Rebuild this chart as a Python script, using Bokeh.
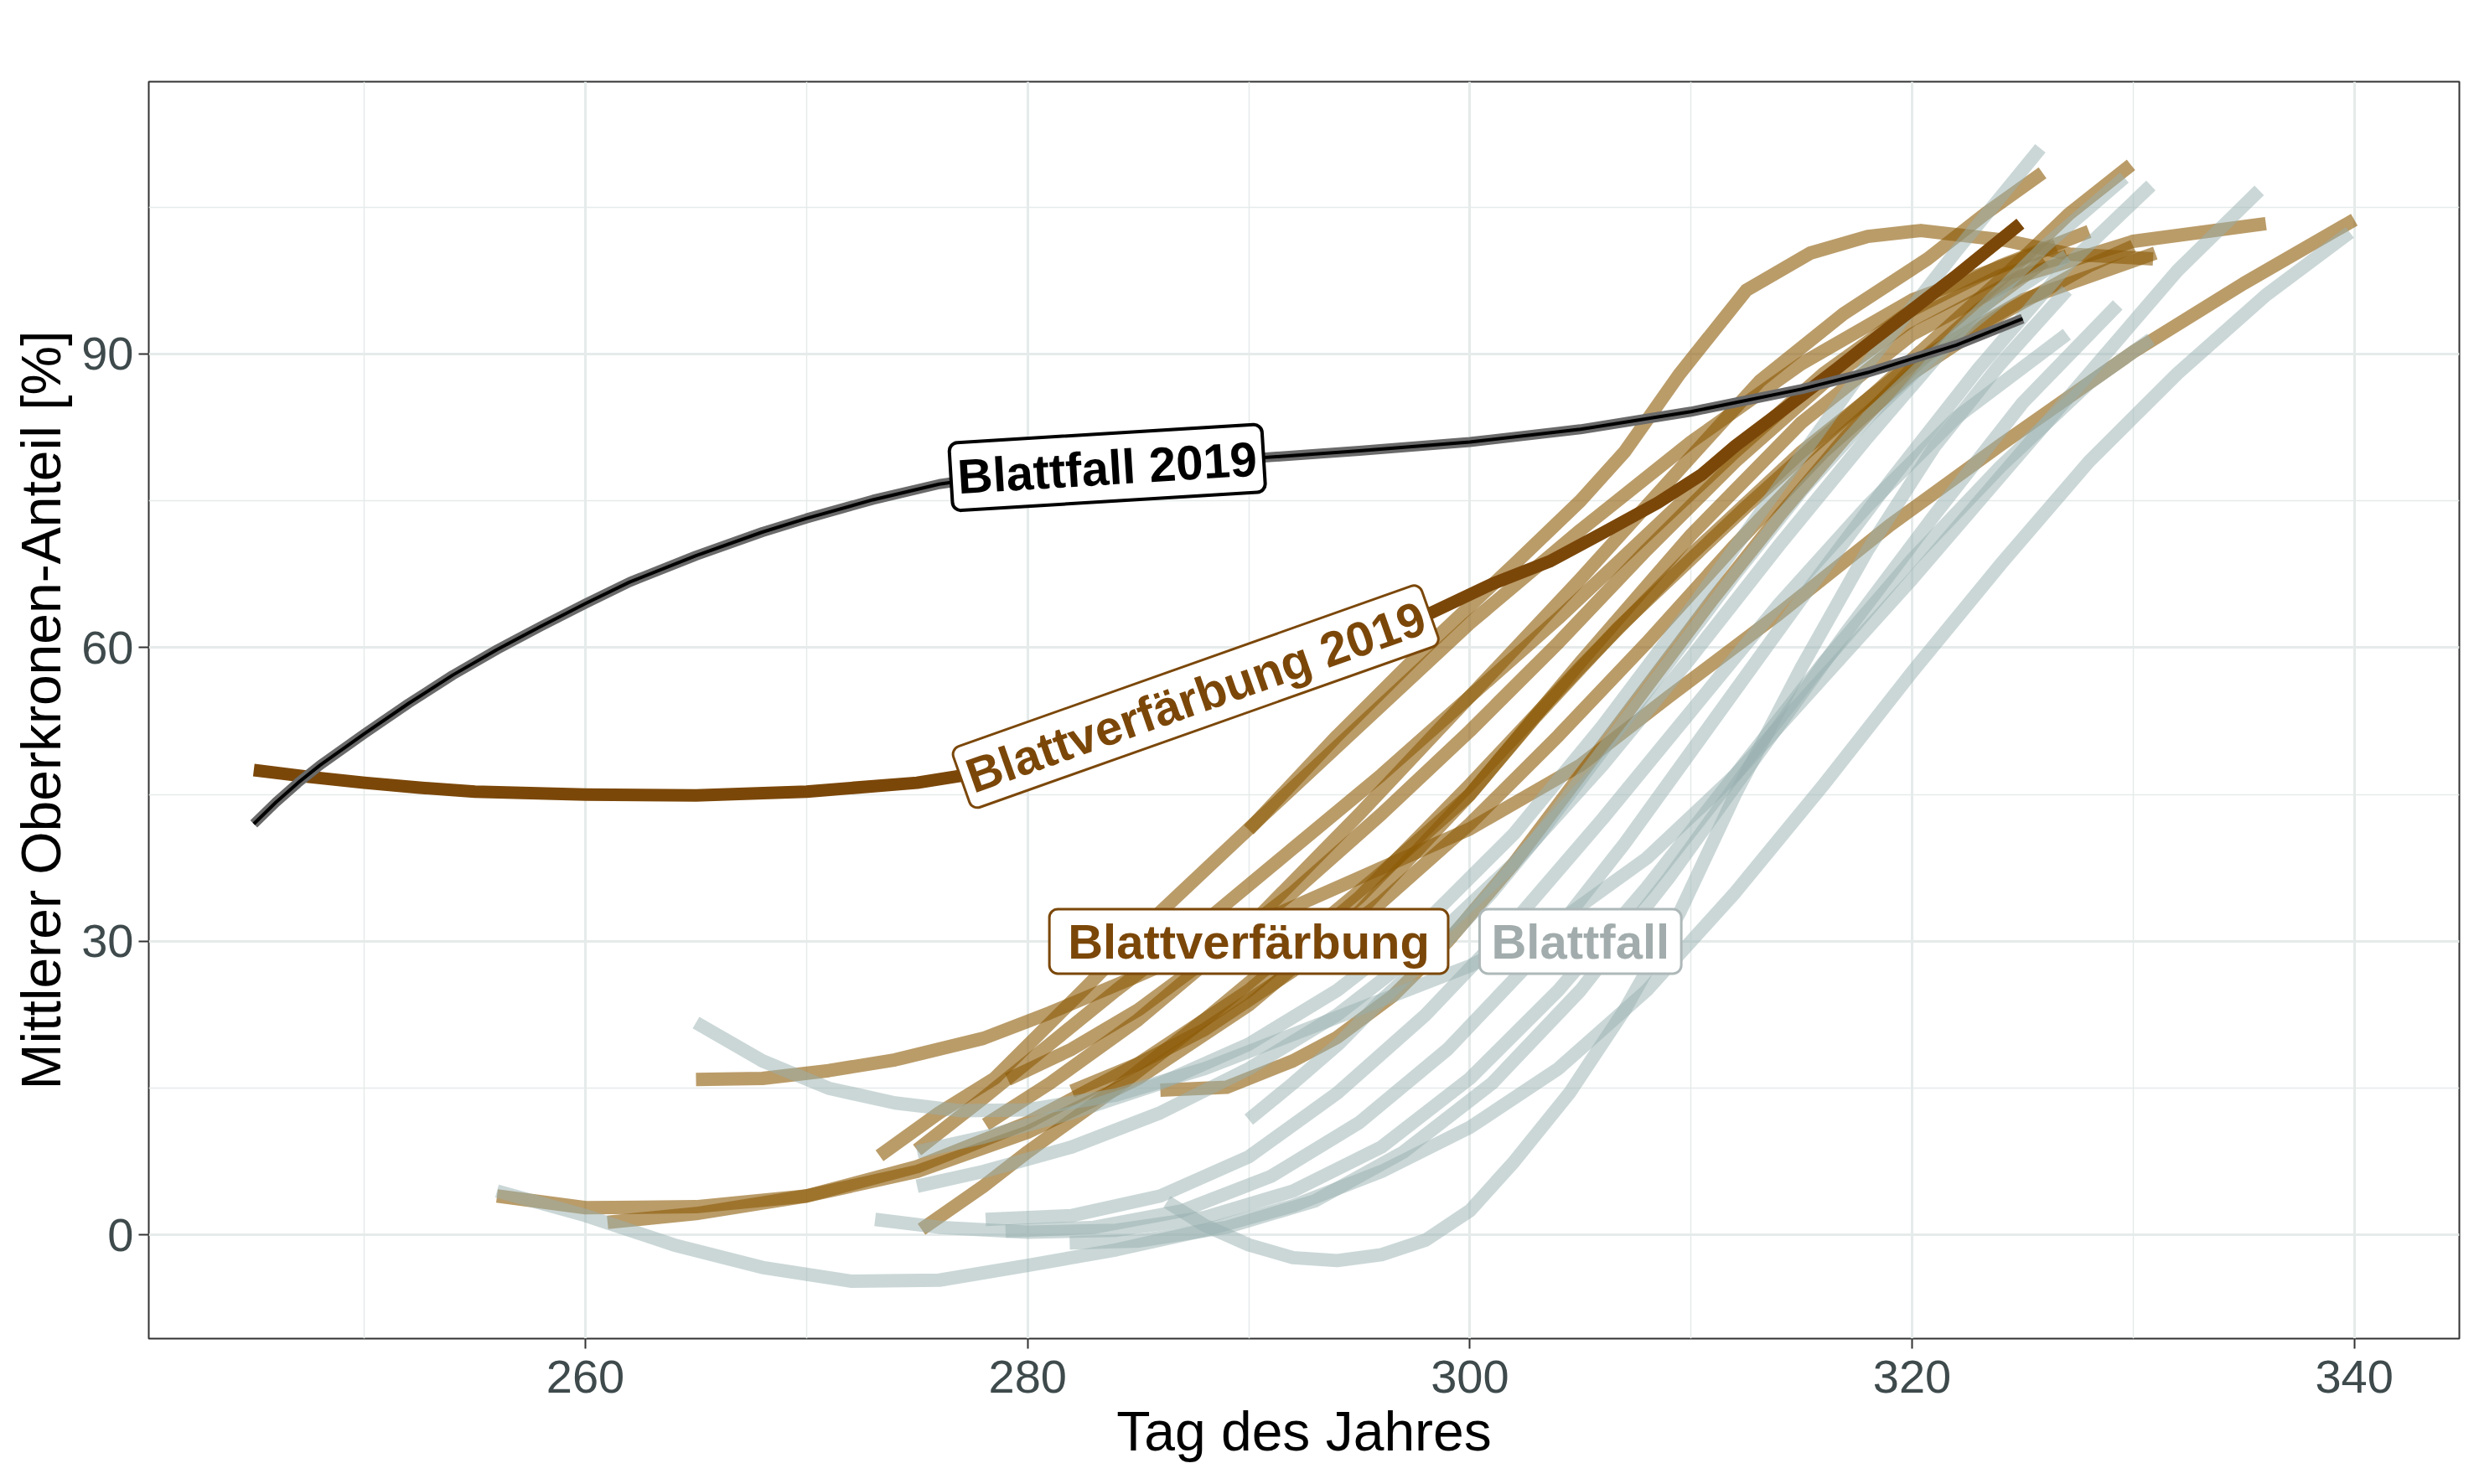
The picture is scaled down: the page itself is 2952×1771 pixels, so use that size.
from bokeh.plotting import figure
from bokeh.models import FixedTicker, Label
from bokeh.embed import file_html
from bokeh.resources import INLINE

# ---------------- data ----------------
x_ticks = [260, 280, 300, 320, 340]
x_minor = [250, 270, 290, 310, 330]
y_ticks = [0, 30, 60, 90]
y_minor = [15, 45, 75, 105]

# Blattfall 2019
fall2019_day = [245, 246, 247, 248, 249, 250, 252, 254, 256, 258, 260, 262, 265, 268, 270, 273, 276,
                280, 285, 290, 295, 300, 305, 310, 315, 318, 320, 322, 325]
fall2019_val = [42.0, 44.2, 46.2, 48.0, 49.6, 51.2, 54.3, 57.2, 59.8, 62.2, 64.5, 66.7, 69.4, 71.8, 73.2, 75.1, 76.7,
                78.0, 78.9, 79.3, 80.1, 81.0, 82.3, 84.1, 86.4, 88.1, 89.5, 90.9, 93.6]

# Blattverfaerbung 2019
color2019_day = [245, 247.5, 250, 252.5, 255, 260, 265, 270, 275, 280, 285, 290, 293, 296.8, 301, 303.6,
                 306, 308.5, 310.5, 312, 314, 316.6, 318, 320, 322, 324.9]
color2019_val = [47.5, 46.8, 46.2, 45.7, 45.3, 45.0, 44.9, 45.3, 46.2, 48.0, 51.0, 55.0, 58.0, 62.0, 66.5, 68.8,
                 71.7, 74.8, 77.7, 80.6, 84.0, 88.5, 91.0, 94.5, 98.0, 103.3]

# Blattverfaerbung, other years
tan_a_day = [256, 260, 265, 270, 275, 280, 285, 290, 295, 300, 305, 310, 315, 320, 325, 330, 336]
tan_a_val = [4.0, 2.8, 2.9, 4.0, 6.5, 10.5, 16.0, 23.5, 33.0, 45.0, 58.5, 71.5, 83.0, 92.0, 98.0, 101.5, 103.3]
tan_b_day = [261, 265, 270, 275, 280, 285, 290, 295, 300, 305, 310, 315, 320, 325, 331]
tan_b_val = [1.3, 2.2, 4.0, 7.0, 11.5, 17.5, 25.0, 34.5, 46.0, 58.0, 69.5, 80.0, 89.0, 95.5, 100.3]
tan_c_day = [265, 268, 271, 274, 278, 281, 285, 290, 295, 300, 305, 309, 314, 319, 324, 330, 335, 340]
tan_c_val = [15.9, 16.0, 16.8, 17.9, 20.1, 22.7, 26.5, 31.5, 36.5, 41.5, 48.0, 55.0, 63.5, 72.5, 80.7, 90.2, 97.2, 103.7]
tan_d_day = [273.3, 276, 278.5, 282.5, 286, 290, 295, 300, 305, 310, 315, 320, 326.5]
tan_d_val = [8.1, 12.5, 16.0, 25.0, 33.0, 41.5, 52.0, 62.5, 72.0, 81.0, 89.0, 95.5, 101.0]
tan_e_day = [275, 278, 281, 284, 288, 292, 296, 300, 304, 308, 312, 316, 320, 324, 328]
tan_e_val = [8.7, 14.0, 19.5, 25.0, 32.0, 39.5, 47.0, 55.0, 63.0, 71.5, 80.0, 88.0, 94.5, 99.0, 102.5]
tan_f_day = [275.2, 278, 280, 284, 288, 292, 296, 300, 303, 306.7, 309.6, 312.5, 315.4, 318.4, 321.3, 324.2, 327.1, 329.9]
tan_f_val = [0.6, 5.0, 8.5, 15.0, 22.0, 29.5, 37.0, 45.0, 53.0, 62.0, 68.2, 74.4, 80.3, 86.2, 92.1, 98.0, 104.3, 109.3]
tan_g_day = [279.1, 282, 285, 288, 292, 296, 300, 304, 308, 312, 316, 320, 324, 327]
tan_g_val = [15.9, 19.0, 23.0, 28.0, 35.0, 43.0, 51.5, 60.5, 70.0, 79.0, 87.0, 93.5, 98.0, 100.0]
tan_h_day = [278.1, 281, 285, 290, 295, 300, 305, 310, 313.1, 316.9, 320.7, 323.3, 325.9]
tan_h_val = [11.3, 15.5, 22.0, 31.5, 43.0, 55.0, 67.0, 79.5, 87.2, 94.1, 99.7, 104.3, 108.5]
tan_i_day = [282, 285, 288, 292, 296, 300, 304, 308, 312, 316, 320, 324, 328, 330]
tan_i_val = [14.7, 17.5, 21.0, 27.0, 34.0, 42.0, 51.0, 60.5, 70.5, 80.0, 88.0, 94.0, 99.0, 101.0]
tan_j_day = [286, 289, 292, 294, 296.5, 299, 302, 305, 308, 311, 314, 317, 320, 323, 326]
tan_j_val = [14.8, 15.1, 17.8, 20.2, 24.4, 30.0, 38.0, 47.0, 56.0, 65.0, 73.5, 81.5, 88.5, 94.5, 99.5]
tan_k_day = [290, 294, 298, 302, 305, 307, 309.5, 312.5, 315.4, 318, 320.4, 324.2, 327.1, 330.9]
tan_k_val = [41.4, 51.0, 60.0, 68.5, 75.0, 80.0, 88.0, 96.5, 100.3, 102.0, 102.6, 101.6, 100.2, 99.7]

# Blattfall, other years
gray_1_day = [256, 260, 264, 268, 272, 276, 280, 284, 288, 292, 296, 300, 304, 308, 312, 316, 320, 324, 328, 332, 336, 339.8]
gray_1_val = [4.5, 2.0, -1.0, -3.3, -4.7, -4.6, -3.1, -1.5, 0.5, 3.0, 6.5, 11.0, 17.0, 25.0, 35.0, 46.0, 57.5, 68.5, 79.0, 88.0, 96.0, 102.4]
gray_2_day = [265, 268, 271, 274, 277, 280, 284, 288, 292, 296, 300, 304, 308, 312, 316, 320, 324, 328, 332, 335.7]
gray_2_val = [21.7, 17.8, 15.0, 13.5, 12.7, 12.8, 14.3, 17.0, 20.5, 24.0, 27.5, 32.0, 38.5, 47.0, 57.0, 67.0, 77.5, 88.0, 98.5, 106.7]
gray_3_day = [273.1, 276, 280, 284, 288, 292, 296, 300, 304, 308, 312, 316, 320, 324, 328, 330.8]
gray_3_val = [1.6, 0.8, 0.3, 0.5, 1.8, 4.5, 9.0, 16.0, 25.0, 35.5, 47.0, 58.5, 69.0, 78.5, 87.0, 91.5]
gray_4_day = [275, 278, 282, 286, 290, 294, 298, 302, 306, 310, 314, 318, 322, 326, 329.6]
gray_4_val = [5.0, 6.5, 9.0, 12.5, 17.0, 22.5, 29.5, 38.0, 48.0, 59.0, 70.5, 81.5, 92.0, 101.0, 108.0]
gray_5_day = [275, 278, 282, 286, 290, 294, 298, 302, 306, 310, 314, 318, 322, 325.8]
gray_5_val = [8.5, 10.0, 12.5, 15.5, 19.5, 25.0, 32.0, 41.0, 52.0, 64.0, 76.5, 89.0, 100.5, 111.0]
gray_6_day = [278.1, 282, 286, 290, 294, 298, 302, 306, 310, 314, 318, 322, 327]
gray_6_val = [1.6, 2.0, 4.0, 8.0, 14.5, 22.5, 32.0, 42.5, 53.5, 64.5, 74.5, 83.5, 92.0]
gray_7_day = [279, 283, 287, 291, 295, 299, 303, 307, 311, 315, 319, 323, 327, 330.8]
gray_7_val = [0.4, 0.8, 2.5, 6.0, 11.5, 19.0, 28.5, 40.0, 52.5, 65.0, 77.0, 88.5, 99.0, 107.2]
gray_8_day = [281.9, 285, 289, 293, 297, 301, 305, 309, 313, 317, 321, 325, 329.3]
gray_8_val = [-0.8, -0.6, 0.8, 3.5, 8.5, 15.5, 25.0, 36.5, 49.0, 61.5, 73.5, 85.0, 95.0]
gray_9_day = [286.3, 288, 290, 292, 294, 296, 298, 300, 302, 304.5, 307, 309.5, 312, 315, 318, 321, 324, 327]
gray_9_val = [3.4, 1.0, -1.0, -2.3, -2.6, -2.0, -0.5, 2.5, 7.5, 14.5, 23.0, 33.0, 45.0, 58.0, 70.0, 80.5, 89.0, 96.5]
gray_10_day = [290, 292, 294.1, 296, 298.9, 301, 303, 305, 307, 309, 312, 315, 318, 321, 324, 327]
gray_10_val = [11.8, 15.5, 19.6, 24.0, 29.9, 35.0, 40.5, 46.5, 52.5, 58.5, 67.5, 76.0, 83.5, 90.0, 95.5, 100.0]

x_title = "Tag des Jahres"
y_title = "Mittlerer Oberkronen-Anteil [%]"

tan_days = [tan_a_day, tan_b_day, tan_c_day, tan_d_day, tan_e_day, tan_f_day,
            tan_g_day, tan_h_day, tan_i_day, tan_j_day, tan_k_day]
tan_vals = [tan_a_val, tan_b_val, tan_c_val, tan_d_val, tan_e_val, tan_f_val,
            tan_g_val, tan_h_val, tan_i_val, tan_j_val, tan_k_val]
gray_days = [gray_1_day, gray_2_day, gray_3_day, gray_4_day, gray_5_day,
             gray_6_day, gray_7_day, gray_8_day, gray_9_day, gray_10_day]
gray_vals = [gray_1_val, gray_2_val, gray_3_val, gray_4_val, gray_5_val,
             gray_6_val, gray_7_val, gray_8_val, gray_9_val, gray_10_val]

# ---------------- figure ----------------
FONT = "Liberation Sans"
BROWN = "#7B4709"
TAN = "#8C5A05"
GRAY = "#98B0AF"

p = figure(width=2936, height=1755, x_range=(240.25, 344.75), y_range=(-10.57, 117.8),
           output_backend="svg", toolbar_location=None,
           min_border_left=177, min_border_right=2, min_border_top=97, min_border_bottom=158)
p.background_fill_color = "white"
p.border_fill_color = "white"
p.outline_line_color = "#333333"
p.outline_line_width = 2

xt = FixedTicker(ticks=x_ticks, minor_ticks=x_minor)
yt = FixedTicker(ticks=y_ticks, minor_ticks=y_minor)
p.xaxis.ticker = xt
p.yaxis.ticker = yt
p.xgrid.ticker = xt
p.ygrid.ticker = yt

for g in (p.xgrid, p.ygrid):
    g.grid_line_color = "#E5EBEA"
    g.grid_line_width = 3
    g.minor_grid_line_color = "#E5EBEA"
    g.minor_grid_line_width = 1.5

for ax in (p.xaxis, p.yaxis):
    ax.axis_line_color = None
    ax.major_tick_line_color = "#333333"
    ax.major_tick_line_width = 2
    ax.major_tick_out = 12
    ax.major_tick_in = 0
    ax.minor_tick_line_color = None
    ax.major_label_text_font = FONT
    ax.major_label_text_font_size = "56px"
    ax.major_label_text_color = "#3E4A4C"
    ax.axis_label_text_font = FONT
    ax.axis_label_text_font_size = "66px"
    ax.axis_label_text_font_style = "normal"
    ax.axis_label_text_color = "black"

p.xaxis.axis_label = x_title
p.yaxis.axis_label = y_title
p.xaxis.major_label_standoff = 14
p.xaxis.axis_label_standoff = 6
p.yaxis.major_label_standoff = 6
p.yaxis.axis_label_standoff = 8

# other years
p.multi_line(xs=tan_days, ys=tan_vals, line_color=TAN, line_alpha=0.6,
             line_width=16, line_join="round")
p.multi_line(xs=gray_days, ys=gray_vals, line_color=GRAY, line_alpha=0.5,
             line_width=16, line_join="round")

# 2019
p.line(color2019_day, color2019_val, line_color=BROWN, line_width=15, line_join="round")
p.line(fall2019_day, fall2019_val, line_color="#6A6A6A", line_width=12, line_join="round")
p.line(fall2019_day, fall2019_val, line_color="black", line_width=4, line_join="round")

# labels
def lab(x, y, text, color, border, angle=0, pad_h=20, pad_v=6, bw=3):
    return Label(x=x, y=y, text=text, text_font=FONT, text_font_size="58px",
                 text_font_style="bold", text_color=color, text_align="center",
                 text_baseline="middle", angle=angle, angle_units="deg",
                 background_fill_color="white", background_fill_alpha=1.0,
                 border_line_color=border, border_line_width=bw,
                 padding=dict(left=pad_h, right=pad_h, top=pad_v, bottom=pad_v),
                 border_radius=10)

p.add_layout(lab(283.6, 78.4, "Blattfall 2019", "black", "black", angle=3.5, pad_h=8, pad_v=8, bw=4))
p.add_layout(lab(287.6, 55.0, "Blattverfärbung 2019", BROWN, BROWN, angle=19.5, pad_h=8))
p.add_layout(lab(290.0, 30.0, "Blattverfärbung", BROWN, BROWN, pad_h=22))
p.add_layout(lab(305.0, 30.0, "Blattfall", "#A2ACAC", "#AEB8B8", pad_h=14))

open("out.html", "w").write(file_html(p, INLINE))
